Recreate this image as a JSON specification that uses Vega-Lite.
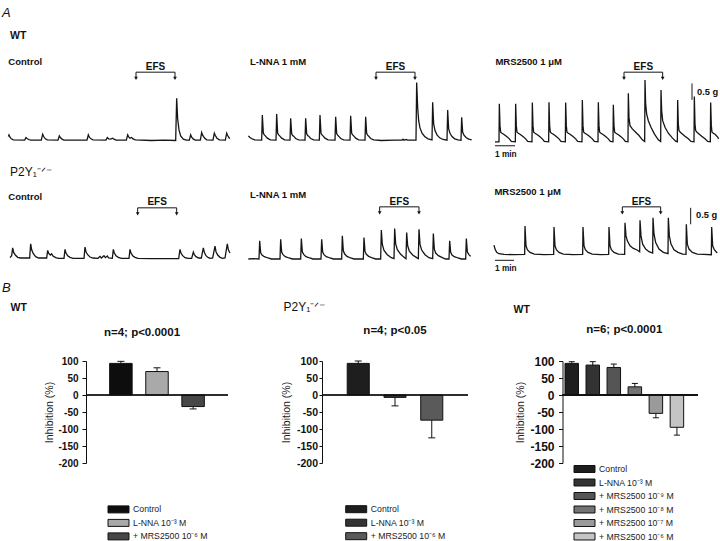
{
"$schema": "https://vega.github.io/schema/vega-lite/v6.json",
"padding": {"left": 2, "top": 7, "right": 0, "bottom": 0},
"background": "white",
"config": {
  "font": "Liberation Sans",
  "view": {"stroke": null},
  "title": {"anchor": "start", "frame": "bounds", "color": "#111", "fontWeight": "bold"},
  "text": {"color": "#111"}
},
"datasets": {
"a1": [{"t":1,"f":0.12},{"t":3,"f":0.17},{"t":6,"f":0.1},{"t":10,"f":0.05},{"t":16,"f":0.02},{"t":50,"f":0.01},{"t":54,"f":0.09},{"t":57,"f":0.06},{"t":62,"f":0.03},{"t":68,"f":0.01},{"t":100,"f":0.01},{"t":104,"f":0.19},{"t":107,"f":0.12},{"t":112,"f":0.05},{"t":118,"f":0.02},{"t":150,"f":0.01},{"t":154,"f":0.14},{"t":157,"f":0.09},{"t":162,"f":0.04},{"t":168,"f":0.01},{"t":237,"f":0.01},{"t":241,"f":0.17},{"t":244,"f":0.1},{"t":249,"f":0.05},{"t":255,"f":0.02},{"t":294,"f":0.01},{"t":298,"f":0.09},{"t":302,"f":0.05},{"t":308,"f":0.04},{"t":314,"f":0.07},{"t":318,"f":0.04},{"t":324,"f":0.01},{"t":355,"f":0.01},{"t":359,"f":0.17},{"t":362,"f":0.11},{"t":366,"f":0.07},{"t":371,"f":0.09},{"t":375,"f":0.05},{"t":382,"f":0.02},{"t":430,"f":0.0},{"t":470,"f":0.01},{"t":503,"f":0.0},{"t":506,"f":1.28},{"t":509,"f":0.65},{"t":513,"f":0.32},{"t":518,"f":0.14},{"t":526,"f":0.04},{"t":535,"f":0.01},{"t":544,"f":0.01},{"t":548,"f":0.17},{"t":551,"f":0.1},{"t":556,"f":0.04},{"t":562,"f":0.01},{"t":577,"f":0.01},{"t":581,"f":0.24},{"t":584,"f":0.16},{"t":589,"f":0.08},{"t":596,"f":0.02},{"t":615,"f":0.01},{"t":619,"f":0.22},{"t":622,"f":0.15},{"t":627,"f":0.07},{"t":634,"f":0.02},{"t":652,"f":0.01},{"t":656,"f":0.22},{"t":659,"f":0.15},{"t":664,"f":0.07},{"t":666,"f":0.06}],
"a2": [{"t":1,"f":0.14},{"t":5,"f":0.1},{"t":10,"f":0.06},{"t":20,"f":0.02},{"t":41,"f":0.01},{"t":43,"f":0.77},{"t":46,"f":0.22},{"t":49,"f":0.17},{"t":52,"f":0.14},{"t":58,"f":0.07},{"t":67,"f":0.02},{"t":84,"f":0.01},{"t":86,"f":0.8},{"t":89,"f":0.22},{"t":92,"f":0.17},{"t":95,"f":0.14},{"t":101,"f":0.07},{"t":110,"f":0.02},{"t":126,"f":0.01},{"t":128,"f":0.67},{"t":131,"f":0.2},{"t":134,"f":0.15},{"t":137,"f":0.13},{"t":143,"f":0.06},{"t":152,"f":0.02},{"t":171,"f":0.01},{"t":173,"f":0.67},{"t":176,"f":0.2},{"t":179,"f":0.15},{"t":182,"f":0.13},{"t":188,"f":0.06},{"t":197,"f":0.02},{"t":214,"f":0.01},{"t":216,"f":0.77},{"t":219,"f":0.22},{"t":222,"f":0.17},{"t":225,"f":0.14},{"t":231,"f":0.07},{"t":240,"f":0.02},{"t":261,"f":0.01},{"t":263,"f":0.72},{"t":266,"f":0.21},{"t":269,"f":0.16},{"t":272,"f":0.13},{"t":278,"f":0.06},{"t":287,"f":0.02},{"t":306,"f":0.01},{"t":308,"f":0.75},{"t":311,"f":0.22},{"t":314,"f":0.17},{"t":317,"f":0.14},{"t":323,"f":0.07},{"t":332,"f":0.02},{"t":351,"f":0.01},{"t":353,"f":0.72},{"t":356,"f":0.21},{"t":359,"f":0.16},{"t":362,"f":0.13},{"t":368,"f":0.06},{"t":377,"f":0.02},{"t":400,"f":0.0},{"t":440,"f":0.01},{"t":462,"f":0.01},{"t":465,"f":0.04},{"t":468,"f":0.01},{"t":475,"f":0.03},{"t":478,"f":0.01},{"t":504,"f":0.01},{"t":506,"f":1.76},{"t":509,"f":1.0},{"t":512,"f":0.6},{"t":516,"f":0.38},{"t":522,"f":0.22},{"t":530,"f":0.12},{"t":540,"f":0.05},{"t":552,"f":0.02},{"t":554,"f":1.16},{"t":557,"f":0.5},{"t":561,"f":0.3},{"t":567,"f":0.17},{"t":575,"f":0.08},{"t":585,"f":0.03},{"t":597,"f":0.01},{"t":599,"f":0.92},{"t":602,"f":0.35},{"t":606,"f":0.22},{"t":612,"f":0.12},{"t":620,"f":0.05},{"t":630,"f":0.02},{"t":639,"f":0.01},{"t":641,"f":0.7},{"t":644,"f":0.25},{"t":648,"f":0.16},{"t":654,"f":0.09},{"t":662,"f":0.04},{"t":671,"f":0.02}],
"a3": [{"t":0,"f":-0.04},{"t":12,"f":-0.04},{"t":13,"f":1.11},{"t":15,"f":0.45},{"t":17,"f":0.25},{"t":21,"f":0.22},{"t":27,"f":0.18},{"t":35,"f":0.12},{"t":43,"f":0.05},{"t":49,"f":-0.03},{"t":61,"f":-0.04},{"t":62,"f":1.11},{"t":64,"f":0.45},{"t":66,"f":0.25},{"t":70,"f":0.22},{"t":76,"f":0.18},{"t":84,"f":0.12},{"t":92,"f":0.05},{"t":98,"f":-0.03},{"t":111,"f":-0.04},{"t":112,"f":1.15},{"t":114,"f":0.45},{"t":116,"f":0.25},{"t":120,"f":0.22},{"t":126,"f":0.18},{"t":134,"f":0.12},{"t":142,"f":0.05},{"t":148,"f":-0.03},{"t":161,"f":-0.04},{"t":162,"f":1.16},{"t":164,"f":0.45},{"t":166,"f":0.25},{"t":170,"f":0.22},{"t":176,"f":0.18},{"t":184,"f":0.12},{"t":192,"f":0.05},{"t":198,"f":-0.03},{"t":211,"f":-0.04},{"t":212,"f":1.15},{"t":214,"f":0.45},{"t":216,"f":0.25},{"t":220,"f":0.22},{"t":226,"f":0.18},{"t":234,"f":0.12},{"t":242,"f":0.05},{"t":248,"f":-0.03},{"t":261,"f":-0.04},{"t":262,"f":1.23},{"t":264,"f":0.45},{"t":266,"f":0.25},{"t":270,"f":0.22},{"t":276,"f":0.18},{"t":284,"f":0.12},{"t":292,"f":0.05},{"t":298,"f":-0.03},{"t":309,"f":-0.04},{"t":310,"f":1.16},{"t":312,"f":0.45},{"t":314,"f":0.25},{"t":318,"f":0.22},{"t":324,"f":0.18},{"t":332,"f":0.12},{"t":340,"f":0.05},{"t":346,"f":-0.03},{"t":354,"f":-0.04},{"t":355,"f":1.08},{"t":357,"f":0.45},{"t":359,"f":0.25},{"t":363,"f":0.22},{"t":369,"f":0.18},{"t":377,"f":0.12},{"t":385,"f":0.05},{"t":391,"f":-0.03},{"t":399,"f":-0.04},{"t":400,"f":1.43},{"t":402,"f":0.7},{"t":405,"f":0.45},{"t":412,"f":0.35},{"t":422,"f":0.25},{"t":432,"f":0.15},{"t":442,"f":0.02},{"t":449,"f":-0.03},{"t":450,"f":1.83},{"t":452,"f":1.1},{"t":455,"f":0.8},{"t":460,"f":0.6},{"t":468,"f":0.4},{"t":478,"f":0.2},{"t":490,"f":0.02},{"t":497,"f":-0.03},{"t":498,"f":1.53},{"t":500,"f":0.9},{"t":503,"f":0.6},{"t":510,"f":0.4},{"t":520,"f":0.22},{"t":532,"f":0.08},{"t":542,"f":-0.02},{"t":547,"f":-0.04},{"t":548,"f":1.23},{"t":550,"f":0.5},{"t":552,"f":0.3},{"t":556,"f":0.25},{"t":562,"f":0.2},{"t":570,"f":0.13},{"t":580,"f":0.05},{"t":588,"f":-0.03},{"t":597,"f":-0.04},{"t":598,"f":1.33},{"t":600,"f":0.5},{"t":602,"f":0.3},{"t":606,"f":0.25},{"t":612,"f":0.2},{"t":620,"f":0.13},{"t":630,"f":0.05},{"t":638,"f":-0.03},{"t":646,"f":-0.04},{"t":647,"f":1.15},{"t":649,"f":0.45},{"t":651,"f":0.25},{"t":655,"f":0.22},{"t":661,"f":0.18},{"t":668,"f":0.1},{"t":671,"f":0.05}],
"b1": [{"t":6,"f":0.04},{"t":11,"f":0.1},{"t":14,"f":0.34},{"t":17,"f":0.2},{"t":22,"f":0.12},{"t":29,"f":0.05},{"t":38,"f":0.03},{"t":65,"f":0.03},{"t":68,"f":0.46},{"t":71,"f":0.28},{"t":76,"f":0.16},{"t":83,"f":0.07},{"t":92,"f":0.03},{"t":116,"f":0.03},{"t":119,"f":0.26},{"t":122,"f":0.17},{"t":127,"f":0.12},{"t":131,"f":0.16},{"t":135,"f":0.09},{"t":143,"f":0.04},{"t":152,"f":0.02},{"t":168,"f":0.02},{"t":171,"f":0.29},{"t":174,"f":0.18},{"t":179,"f":0.1},{"t":186,"f":0.05},{"t":195,"f":0.02},{"t":228,"f":0.02},{"t":231,"f":0.36},{"t":234,"f":0.22},{"t":239,"f":0.13},{"t":246,"f":0.06},{"t":255,"f":0.03},{"t":270,"f":0.02},{"t":276,"f":0.08},{"t":280,"f":0.03},{"t":288,"f":0.1},{"t":292,"f":0.04},{"t":298,"f":0.09},{"t":302,"f":0.03},{"t":313,"f":0.02},{"t":316,"f":0.29},{"t":319,"f":0.18},{"t":324,"f":0.1},{"t":331,"f":0.05},{"t":340,"f":0.02},{"t":363,"f":0.02},{"t":366,"f":0.29},{"t":369,"f":0.18},{"t":374,"f":0.1},{"t":381,"f":0.05},{"t":390,"f":0.02},{"t":430,"f":0.01},{"t":470,"f":0.01},{"t":512,"f":0.01},{"t":516,"f":0.29},{"t":519,"f":0.18},{"t":524,"f":0.1},{"t":531,"f":0.04},{"t":540,"f":0.02},{"t":551,"f":0.02},{"t":556,"f":0.21},{"t":559,"f":0.13},{"t":564,"f":0.07},{"t":572,"f":0.03},{"t":580,"f":0.03},{"t":586,"f":0.34},{"t":589,"f":0.2},{"t":594,"f":0.1},{"t":601,"f":0.04},{"t":608,"f":0.02},{"t":614,"f":0.03},{"t":621,"f":0.39},{"t":624,"f":0.22},{"t":629,"f":0.12},{"t":636,"f":0.05},{"t":644,"f":0.02},{"t":651,"f":0.03},{"t":658,"f":0.46},{"t":661,"f":0.28},{"t":666,"f":0.18}],
"b2": [{"t":4,"f":0.0},{"t":20,"f":0.01},{"t":36,"f":0.0},{"t":38,"f":0.55},{"t":41,"f":0.19},{"t":45,"f":0.12},{"t":52,"f":0.07},{"t":63,"f":0.03},{"t":73,"f":0.0},{"t":99,"f":0.0},{"t":101,"f":0.6},{"t":104,"f":0.21},{"t":108,"f":0.13},{"t":115,"f":0.07},{"t":126,"f":0.03},{"t":136,"f":0.0},{"t":161,"f":0.0},{"t":163,"f":0.62},{"t":166,"f":0.22},{"t":170,"f":0.14},{"t":177,"f":0.07},{"t":188,"f":0.03},{"t":198,"f":0.0},{"t":222,"f":0.0},{"t":224,"f":0.6},{"t":227,"f":0.21},{"t":231,"f":0.13},{"t":238,"f":0.07},{"t":249,"f":0.03},{"t":259,"f":0.0},{"t":284,"f":0.0},{"t":286,"f":0.7},{"t":289,"f":0.25},{"t":293,"f":0.15},{"t":300,"f":0.08},{"t":311,"f":0.03},{"t":321,"f":0.0},{"t":349,"f":0.0},{"t":351,"f":0.65},{"t":354,"f":0.23},{"t":358,"f":0.14},{"t":365,"f":0.08},{"t":376,"f":0.03},{"t":386,"f":0.0},{"t":401,"f":0.0},{"t":403,"f":0.88},{"t":406,"f":0.44},{"t":411,"f":0.26},{"t":421,"f":0.13},{"t":433,"f":0.04},{"t":441,"f":0.01},{"t":443,"f":0.92},{"t":446,"f":0.46},{"t":451,"f":0.28},{"t":461,"f":0.14},{"t":473,"f":0.04},{"t":477,"f":0.01},{"t":479,"f":0.8},{"t":482,"f":0.4},{"t":487,"f":0.24},{"t":497,"f":0.12},{"t":509,"f":0.04},{"t":514,"f":0.01},{"t":516,"f":0.9},{"t":519,"f":0.45},{"t":524,"f":0.27},{"t":534,"f":0.13},{"t":546,"f":0.04},{"t":557,"f":0.01},{"t":559,"f":0.77},{"t":562,"f":0.3},{"t":566,"f":0.18},{"t":574,"f":0.1},{"t":586,"f":0.04},{"t":596,"f":0.0},{"t":606,"f":0.0},{"t":608,"f":0.55},{"t":611,"f":0.2},{"t":615,"f":0.12},{"t":622,"f":0.07},{"t":633,"f":0.03},{"t":643,"f":0.0},{"t":656,"f":0.0},{"t":658,"f":0.62},{"t":661,"f":0.22},{"t":665,"f":0.14},{"t":671,"f":0.08}],
"b3": [{"t":0,"f":0.42},{"t":3,"f":0.3},{"t":8,"f":0.2},{"t":15,"f":0.16},{"t":30,"f":0.14},{"t":60,"f":0.13},{"t":92,"f":0.14},{"t":93,"f":1.0},{"t":96,"f":0.4},{"t":100,"f":0.28},{"t":108,"f":0.2},{"t":121,"f":0.15},{"t":150,"f":0.13},{"t":179,"f":0.14},{"t":180,"f":0.97},{"t":183,"f":0.4},{"t":187,"f":0.28},{"t":195,"f":0.2},{"t":208,"f":0.15},{"t":237,"f":0.13},{"t":266,"f":0.14},{"t":267,"f":0.97},{"t":270,"f":0.4},{"t":274,"f":0.28},{"t":282,"f":0.2},{"t":295,"f":0.15},{"t":320,"f":0.13},{"t":344,"f":0.14},{"t":345,"f":0.97},{"t":348,"f":0.4},{"t":352,"f":0.28},{"t":360,"f":0.2},{"t":373,"f":0.15},{"t":392,"f":0.14},{"t":393,"f":1.1},{"t":396,"f":0.7},{"t":400,"f":0.55},{"t":408,"f":0.4},{"t":418,"f":0.32},{"t":428,"f":0.28},{"t":437,"f":0.22},{"t":438,"f":1.17},{"t":441,"f":0.7},{"t":446,"f":0.45},{"t":455,"f":0.3},{"t":465,"f":0.22},{"t":476,"f":0.18},{"t":477,"f":1.25},{"t":480,"f":0.75},{"t":485,"f":0.5},{"t":495,"f":0.3},{"t":508,"f":0.2},{"t":522,"f":0.16},{"t":523,"f":1.25},{"t":526,"f":0.7},{"t":531,"f":0.45},{"t":540,"f":0.28},{"t":552,"f":0.2},{"t":566,"f":0.15},{"t":576,"f":0.14},{"t":577,"f":1.05},{"t":580,"f":0.45},{"t":585,"f":0.3},{"t":595,"f":0.2},{"t":610,"f":0.15},{"t":630,"f":0.14},{"t":652,"f":0.13},{"t":653,"f":0.97},{"t":656,"f":0.4},{"t":661,"f":0.28},{"t":668,"f":0.2},{"t":670,"f":0.19}],
"ann": [
{"p":"a1","k":"r","t":384,"f":2.07,"t2":501,"f2":2.07},{"p":"a1","k":"r","t":384,"f":2.07,"t2":384,"f2":1.88},{"p":"a1","k":"r","t":501,"f":2.07,"t2":501,"f2":1.88},{"p":"a1","k":"v","t":384,"f":1.88},{"p":"a1","k":"v","t":501,"f":1.88},{"p":"a1","k":"c","t":442.5,"f":2.23,"s":"EFS"},
{"p":"a2","k":"r","t":384,"f":2.07,"t2":501,"f2":2.07},{"p":"a2","k":"r","t":384,"f":2.07,"t2":384,"f2":1.88},{"p":"a2","k":"r","t":501,"f":2.07,"t2":501,"f2":1.88},{"p":"a2","k":"v","t":384,"f":1.88},{"p":"a2","k":"v","t":501,"f":1.88},{"p":"a2","k":"c","t":442.5,"f":2.23,"s":"EFS"},
{"p":"a3","k":"r","t":387,"f":2.07,"t2":503,"f2":2.07},{"p":"a3","k":"r","t":387,"f":2.07,"t2":387,"f2":1.88},{"p":"a3","k":"r","t":503,"f":2.07,"t2":503,"f2":1.88},{"p":"a3","k":"v","t":387,"f":1.88},{"p":"a3","k":"v","t":503,"f":1.88},{"p":"a3","k":"c","t":445,"f":2.23,"s":"EFS"},
{"p":"a3","k":"r","t":591,"f":1.23,"t2":591,"f2":1.73},{"p":"a3","k":"x","t":606,"f":1.48,"s":"0.5 g"},{"p":"a3","k":"r","t":0,"f":-0.16,"t2":60,"f2":-0.16},{"p":"a3","k":"m","t":0,"f":-0.44,"s":"1 min"},
{"p":"b1","k":"r","t":389,"f":1.55,"t2":506,"f2":1.55},{"p":"b1","k":"r","t":389,"f":1.55,"t2":389,"f2":1.37},{"p":"b1","k":"r","t":506,"f":1.55,"t2":506,"f2":1.37},{"p":"b1","k":"v","t":389,"f":1.37},{"p":"b1","k":"v","t":506,"f":1.37},{"p":"b1","k":"c","t":447.5,"f":1.74,"s":"EFS"},
{"p":"b2","k":"r","t":398,"f":1.58,"t2":516,"f2":1.58},{"p":"b2","k":"r","t":398,"f":1.58,"t2":398,"f2":1.4},{"p":"b2","k":"r","t":516,"f":1.58,"t2":516,"f2":1.4},{"p":"b2","k":"v","t":398,"f":1.4},{"p":"b2","k":"v","t":516,"f":1.4},{"p":"b2","k":"c","t":457,"f":1.74,"s":"EFS"},
{"p":"b3","k":"r","t":385,"f":1.58,"t2":500,"f2":1.58},{"p":"b3","k":"r","t":385,"f":1.58,"t2":385,"f2":1.4},{"p":"b3","k":"r","t":500,"f":1.58,"t2":500,"f2":1.4},{"p":"b3","k":"v","t":385,"f":1.4},{"p":"b3","k":"v","t":500,"f":1.4},{"p":"b3","k":"c","t":442.5,"f":1.74,"s":"EFS"},
{"p":"b3","k":"r","t":590,"f":1.05,"t2":590,"f2":1.55},{"p":"b3","k":"x","t":606,"f":1.32,"s":"0.5 g"},{"p":"b3","k":"r","t":3,"f":-0.04,"t2":60,"f2":-0.04},{"p":"b3","k":"m","t":3,"f":-0.31,"s":"1 min"}
],
"bars": [
{"g":"w","c":"Control","v":93,"e":99},{"g":"w","c":"L-NNA 10\u207b\u00b3 M","v":69,"e":80},{"g":"w","c":"+ MRS2500 10\u207b\u2076 M","v":-34,"e":-41},
{"g":"k","c":"Control","v":93,"e":100},{"g":"k","c":"L-NNA 10\u207b\u00b3 M","v":-7,"e":-32},{"g":"k","c":"+ MRS2500 10\u207b\u2076 M","v":-74,"e":-126},
{"g":"w2","c":"Control","v":93,"e":98},{"g":"w2","c":"L-NNA 10\u207b\u00b3 M","v":88,"e":98},{"g":"w2","c":"+ MRS2500 10\u207b\u2079 M","v":81,"e":91},{"g":"w2","c":"+ MRS2500 10\u207b\u2078 M","v":24,"e":34},{"g":"w2","c":"+ MRS2500 10\u207b\u2077 M","v":-54,"e":-67},{"g":"w2","c":"+ MRS2500 10\u207b\u2076 M","v":-95,"e":-118}
]
},
"spacing": 2,
"resolve": {"scale": {"x": "independent", "y": "independent", "color": "independent"}, "legend": {"color": "independent"}},
"vconcat": [
{
 "title": {"text": "A", "fontSize": 13, "fontStyle": "italic", "fontWeight": "normal", "offset": 10.6},
 "resolve": {"scale": {"x": "independent", "y": "independent"}},
 "vconcat": [{
  "title": {"text": "WT", "fontSize": 10.5, "dx": 8, "offset": 8.6},
  "spacing": 12,
  "resolve": {"scale": {"x": "independent", "y": "independent"}},
  "hconcat": [
   {"width": 231, "height": 114,
    "title": {"text": "Control", "fontSize": 9.5, "frame": "group", "dx": 6.3, "offset": -16.3},
    "encoding": {"x": {"field": "t", "type": "quantitative", "scale": {"domain": [-18, 675], "nice": false}, "axis": null},
                 "y": {"field": "f", "type": "quantitative", "scale": {"domain": [-0.7125, 2.742], "nice": false}, "axis": null}},
    "layer": [
     {"data": {"name": "a1"}, "mark": {"type": "line", "color": "#151515", "strokeWidth": 1.3}},
     {"data": {"name": "ann"}, "transform": [{"filter": "datum.p === 'a1' && datum.k === 'r'"}], "mark": {"type": "rule", "color": "#151515", "strokeWidth": 1}, "encoding": {"x2": {"field": "t2"}, "y2": {"field": "f2"}}},
     {"data": {"name": "ann"}, "transform": [{"filter": "datum.p === 'a1' && datum.k === 'v'"}], "mark": {"type": "point", "shape": "triangle-down", "filled": true, "color": "#151515", "size": 14, "opacity": 1}},
     {"data": {"name": "ann"}, "transform": [{"filter": "datum.p === 'a1' && datum.k === 'c'"}], "mark": {"type": "text", "fontSize": 10, "fontWeight": "bold", "align": "center", "baseline": "middle"}, "encoding": {"text": {"field": "s"}}}
    ]},
   {"width": 232, "height": 114,
    "title": {"text": "L-NNA 1 mM", "fontSize": 9.5, "frame": "group", "dx": 2, "offset": -16.3},
    "encoding": {"x": {"field": "t", "type": "quantitative", "scale": {"domain": [0, 696], "nice": false}, "axis": null},
                 "y": {"field": "f", "type": "quantitative", "scale": {"domain": [-0.7125, 2.742], "nice": false}, "axis": null}},
    "layer": [
     {"data": {"name": "a2"}, "mark": {"type": "line", "color": "#151515", "strokeWidth": 1.3}},
     {"data": {"name": "ann"}, "transform": [{"filter": "datum.p === 'a2' && datum.k === 'r'"}], "mark": {"type": "rule", "color": "#151515", "strokeWidth": 1}, "encoding": {"x2": {"field": "t2"}, "y2": {"field": "f2"}}},
     {"data": {"name": "ann"}, "transform": [{"filter": "datum.p === 'a2' && datum.k === 'v'"}], "mark": {"type": "point", "shape": "triangle-down", "filled": true, "color": "#151515", "size": 14, "opacity": 1}},
     {"data": {"name": "ann"}, "transform": [{"filter": "datum.p === 'a2' && datum.k === 'c'"}], "mark": {"type": "text", "fontSize": 10, "fontWeight": "bold", "align": "center", "baseline": "middle"}, "encoding": {"text": {"field": "s"}}}
    ]},
   {"width": 225, "height": 114,
    "title": {"text": "MRS2500 1 \u03bcM", "fontSize": 9.5, "frame": "group", "dx": 0.4, "offset": -16.3},
    "encoding": {"x": {"field": "t", "type": "quantitative", "scale": {"domain": [0, 675], "nice": false}, "axis": null},
                 "y": {"field": "f", "type": "quantitative", "scale": {"domain": [-0.7125, 2.742], "nice": false}, "axis": null}},
    "layer": [
     {"data": {"name": "a3"}, "mark": {"type": "line", "color": "#151515", "strokeWidth": 1.3}},
     {"data": {"name": "ann"}, "transform": [{"filter": "datum.p === 'a3' && datum.k === 'r'"}], "mark": {"type": "rule", "color": "#151515", "strokeWidth": 1}, "encoding": {"x2": {"field": "t2"}, "y2": {"field": "f2"}}},
     {"data": {"name": "ann"}, "transform": [{"filter": "datum.p === 'a3' && datum.k === 'v'"}], "mark": {"type": "point", "shape": "triangle-down", "filled": true, "color": "#151515", "size": 14, "opacity": 1}},
     {"data": {"name": "ann"}, "transform": [{"filter": "datum.p === 'a3' && datum.k === 'c'"}], "mark": {"type": "text", "fontSize": 10, "fontWeight": "bold", "align": "center", "baseline": "middle"}, "encoding": {"text": {"field": "s"}}},
     {"data": {"name": "ann"}, "transform": [{"filter": "datum.p === 'a3' && datum.k === 'x'"}], "mark": {"type": "text", "fontSize": 9.3, "fontWeight": "bold", "align": "left", "baseline": "middle"}, "encoding": {"text": {"field": "s"}}},
     {"data": {"name": "ann"}, "transform": [{"filter": "datum.p === 'a3' && datum.k === 'm'"}], "mark": {"type": "text", "fontSize": 8.3, "fontWeight": "bold", "align": "left", "baseline": "middle"}, "encoding": {"text": {"field": "s"}}}
    ]}
  ]
 }]
},
{
 "title": {"text": "P2Y\u2081\u207b\u141f\u207b", "fontSize": 12, "fontWeight": "normal", "dx": 8, "offset": 6},
 "spacing": 12,
 "resolve": {"scale": {"x": "independent", "y": "independent"}},
 "hconcat": [
   {"width": 231, "height": 94,
    "title": {"text": "Control", "fontSize": 9.5, "frame": "group", "dx": 6.3, "offset": -16.5},
    "encoding": {"x": {"field": "t", "type": "quantitative", "scale": {"domain": [-18, 675], "nice": false}, "axis": null},
                 "y": {"field": "f", "type": "quantitative", "scale": {"domain": [-0.6065, 2.242], "nice": false}, "axis": null}},
    "layer": [
     {"data": {"name": "b1"}, "mark": {"type": "line", "color": "#151515", "strokeWidth": 1.3}},
     {"data": {"name": "ann"}, "transform": [{"filter": "datum.p === 'b1' && datum.k === 'r'"}], "mark": {"type": "rule", "color": "#151515", "strokeWidth": 1}, "encoding": {"x2": {"field": "t2"}, "y2": {"field": "f2"}}},
     {"data": {"name": "ann"}, "transform": [{"filter": "datum.p === 'b1' && datum.k === 'v'"}], "mark": {"type": "point", "shape": "triangle-down", "filled": true, "color": "#151515", "size": 14, "opacity": 1}},
     {"data": {"name": "ann"}, "transform": [{"filter": "datum.p === 'b1' && datum.k === 'c'"}], "mark": {"type": "text", "fontSize": 10, "fontWeight": "bold", "align": "center", "baseline": "middle"}, "encoding": {"text": {"field": "s"}}}
    ]},
   {"width": 232, "height": 94,
    "title": {"text": "L-NNA 1 mM", "fontSize": 9.5, "frame": "group", "dx": 3, "offset": -14.8},
    "encoding": {"x": {"field": "t", "type": "quantitative", "scale": {"domain": [0, 696], "nice": false}, "axis": null},
                 "y": {"field": "f", "type": "quantitative", "scale": {"domain": [-0.6065, 2.242], "nice": false}, "axis": null}},
    "layer": [
     {"data": {"name": "b2"}, "mark": {"type": "line", "color": "#151515", "strokeWidth": 1.3}},
     {"data": {"name": "ann"}, "transform": [{"filter": "datum.p === 'b2' && datum.k === 'r'"}], "mark": {"type": "rule", "color": "#151515", "strokeWidth": 1}, "encoding": {"x2": {"field": "t2"}, "y2": {"field": "f2"}}},
     {"data": {"name": "ann"}, "transform": [{"filter": "datum.p === 'b2' && datum.k === 'v'"}], "mark": {"type": "point", "shape": "triangle-down", "filled": true, "color": "#151515", "size": 14, "opacity": 1}},
     {"data": {"name": "ann"}, "transform": [{"filter": "datum.p === 'b2' && datum.k === 'c'"}], "mark": {"type": "text", "fontSize": 10, "fontWeight": "bold", "align": "center", "baseline": "middle"}, "encoding": {"text": {"field": "s"}}}
    ]},
   {"width": 225, "height": 94,
    "title": {"text": "MRS2500 1 \u03bcM", "fontSize": 9.5, "frame": "group", "dx": 0.4, "offset": -11.5},
    "encoding": {"x": {"field": "t", "type": "quantitative", "scale": {"domain": [0, 675], "nice": false}, "axis": null},
                 "y": {"field": "f", "type": "quantitative", "scale": {"domain": [-0.6065, 2.242], "nice": false}, "axis": null}},
    "layer": [
     {"data": {"name": "b3"}, "mark": {"type": "line", "color": "#151515", "strokeWidth": 1.3}},
     {"data": {"name": "ann"}, "transform": [{"filter": "datum.p === 'b3' && datum.k === 'r'"}], "mark": {"type": "rule", "color": "#151515", "strokeWidth": 1}, "encoding": {"x2": {"field": "t2"}, "y2": {"field": "f2"}}},
     {"data": {"name": "ann"}, "transform": [{"filter": "datum.p === 'b3' && datum.k === 'v'"}], "mark": {"type": "point", "shape": "triangle-down", "filled": true, "color": "#151515", "size": 14, "opacity": 1}},
     {"data": {"name": "ann"}, "transform": [{"filter": "datum.p === 'b3' && datum.k === 'c'"}], "mark": {"type": "text", "fontSize": 10, "fontWeight": "bold", "align": "center", "baseline": "middle"}, "encoding": {"text": {"field": "s"}}},
     {"data": {"name": "ann"}, "transform": [{"filter": "datum.p === 'b3' && datum.k === 'x'"}], "mark": {"type": "text", "fontSize": 9.3, "fontWeight": "bold", "align": "left", "baseline": "middle"}, "encoding": {"text": {"field": "s"}}},
     {"data": {"name": "ann"}, "transform": [{"filter": "datum.p === 'b3' && datum.k === 'm'"}], "mark": {"type": "text", "fontSize": 8.3, "fontWeight": "bold", "align": "left", "baseline": "middle"}, "encoding": {"text": {"field": "s"}}}
    ]}
 ]
},
{
 "title": {"text": "B", "fontSize": 13, "fontStyle": "italic", "fontWeight": "normal", "dx": 0, "offset": 6.5},
 "spacing": 0,
 "resolve": {"scale": {"x": "independent", "y": "independent", "color": "independent"}, "legend": {"color": "independent"}},
 "hconcat": [
  {"width": 8, "height": 10, "data": {"values": [{"z": 1}]}, "mark": {"type": "point", "opacity": 0, "size": 1}},
  {"spacing": 52,
   "resolve": {"scale": {"x": "independent", "y": "independent", "color": "independent"}, "legend": {"color": "independent"}},
   "hconcat": [
  {"title": {"text": "WT", "fontSize": 10.5, "dx": -34.5, "offset": 12.9},
   "vconcat": [{
    "width": 142, "height": 102,
    "title": {"text": "n=4; p<0.0001", "fontSize": 11.5, "anchor": "middle", "frame": "group", "dx": -15, "offset": 17.9},
    "data": {"name": "bars"},
    "transform": [{"filter": "datum.g === 'w'"}],
    "layer": [
     {"mark": {"type": "bar", "stroke": "#111", "strokeWidth": 1},
      "encoding": {
       "x": {"field": "c", "type": "nominal", "sort": null, "axis": null, "scale": {"paddingInner": 0.377, "paddingOuter": 0.655}},
       "y": {"field": "v", "type": "quantitative", "scale": {"domain": [-200, 100], "nice": false},
             "axis": {"values": [-200,-150,-100,-50,0,50,100], "title": "Inhibition (%)", "titleFontSize": 10.5, "titleFontWeight": "normal", "titleColor": "#222", "titlePadding": 3, "labelFontSize": 10, "labelFontWeight": "bold", "labelColor": "#111", "labelPadding": 4, "tickSize": 4, "tickColor": "#111", "domainColor": "#111", "grid": false, "labelExpr": "datum.value + ''", "labelFlush": false, "labelOverlap": false}},
       "color": {"field": "c", "type": "nominal", "scale": {"domain": ["Control", "L-NNA 10\u207b\u00b3 M", "+ MRS2500 10\u207b\u2076 M"], "range": ["#0d0d0d", "#a9a9a9", "#474747"]},
             "legend": {"title": null, "orient": "none", "legendX": 26.5, "legendY": 142.4, "direction": "vertical", "symbolType": "M-2,-0.667L2,-0.667L2,0.667L-2,0.667Z", "symbolSize": 110, "symbolStrokeColor": "#111", "symbolStrokeWidth": 1, "symbolOpacity": 1, "labelFontSize": 8.7, "labelColor": "#222", "labelOffset": 8.6, "rowPadding": 1.5, "labelLimit": 300}}
      }},
     {"mark": {"type": "rule", "color": "#111", "strokeWidth": 1},
      "encoding": {"x": {"field": "c", "type": "nominal", "sort": null, "axis": null},
       "y": {"field": "v", "type": "quantitative", "scale": {"domain": [-200, 100], "nice": false},
             "axis": {"values": [-200,-150,-100,-50,0,50,100], "title": "Inhibition (%)", "titleFontSize": 10.5, "titleFontWeight": "normal", "titleColor": "#222", "titlePadding": 3, "labelFontSize": 10, "labelFontWeight": "bold", "labelColor": "#111", "labelPadding": 4, "tickSize": 4, "tickColor": "#111", "domainColor": "#111", "grid": false, "labelExpr": "datum.value + ''", "labelFlush": false, "labelOverlap": false}},
       "y2": {"field": "e"}}},
     {"mark": {"type": "tick", "color": "#111", "thickness": 1, "size": 7, "opacity": 1},
      "encoding": {"x": {"field": "c", "type": "nominal", "sort": null, "axis": null},
       "y": {"field": "e", "type": "quantitative", "scale": {"domain": [-200, 100], "nice": false},
             "axis": {"values": [-200,-150,-100,-50,0,50,100], "title": "Inhibition (%)", "titleFontSize": 10.5, "titleFontWeight": "normal", "titleColor": "#222", "titlePadding": 3, "labelFontSize": 10, "labelFontWeight": "bold", "labelColor": "#111", "labelPadding": 4, "tickSize": 4, "tickColor": "#111", "domainColor": "#111", "grid": false, "labelExpr": "datum.value + ''", "labelFlush": false, "labelOverlap": false}}}},
     {"mark": {"type": "rule", "color": "#111", "strokeWidth": 1},
      "encoding": {"y": {"datum": 0, "type": "quantitative", "scale": {"domain": [-200, 100], "nice": false},
             "axis": {"values": [-200,-150,-100,-50,0,50,100], "title": "Inhibition (%)", "titleFontSize": 10.5, "titleFontWeight": "normal", "titleColor": "#222", "titlePadding": 3, "labelFontSize": 10, "labelFontWeight": "bold", "labelColor": "#111", "labelPadding": 4, "tickSize": 4, "tickColor": "#111", "domainColor": "#111", "grid": false, "labelExpr": "datum.value + ''", "labelFlush": false, "labelOverlap": false}}}}
    ]
   }]
  },
  {"spacing": 43.5,
   "resolve": {"scale": {"x": "independent", "y": "independent", "color": "independent"}, "legend": {"color": "independent"}},
   "hconcat": [
    {"title": {"text": "P2Y\u2081\u207b\u141f\u207b", "fontSize": 12, "fontWeight": "normal", "dx": 1.5, "offset": 11.4},
     "vconcat": [{
      "width": 146, "height": 102,
      "title": {"text": "n=4; p<0.05", "fontSize": 11.5, "anchor": "middle", "frame": "group", "dx": 0, "offset": 19.05},
      "data": {"name": "bars"},
      "transform": [{"filter": "datum.g === 'k'"}],
      "layer": [
       {"mark": {"type": "bar", "stroke": "#111", "strokeWidth": 1},
        "encoding": {
         "x": {"field": "c", "type": "nominal", "sort": null, "axis": null, "scale": {"paddingInner": 0.4, "paddingOuter": 0.686}},
         "y": {"field": "v", "type": "quantitative", "scale": {"domain": [-200, 100], "nice": false},
               "axis": {"values": [-200,-150,-100,-50,0,50,100], "title": "Inhibition (%)", "titleFontSize": 10.5, "titleFontWeight": "normal", "titleColor": "#222", "titlePadding": 4.5, "labelFontSize": 10.5, "labelFontWeight": "bold", "labelColor": "#111", "labelPadding": 1.5, "tickSize": 3, "tickColor": "#111", "domainColor": "#111", "grid": false, "labelExpr": "datum.value + ''", "labelFlush": false, "labelOverlap": false}},
         "color": {"field": "c", "type": "nominal", "scale": {"domain": ["Control", "L-NNA 10\u207b\u00b3 M", "+ MRS2500 10\u207b\u2076 M"], "range": ["#1e1e1e", "#333333", "#5a5a5a"]},
               "legend": {"title": null, "orient": "none", "legendX": 28.2, "legendY": 142.2, "direction": "vertical", "symbolType": "M-2,-0.667L2,-0.667L2,0.667L-2,0.667Z", "symbolSize": 110, "symbolStrokeColor": "#111", "symbolStrokeWidth": 1, "symbolOpacity": 1, "labelFontSize": 8.7, "labelColor": "#222", "labelOffset": 8.6, "rowPadding": 1.5, "labelLimit": 300}}
        }},
       {"mark": {"type": "rule", "color": "#111", "strokeWidth": 1},
        "encoding": {"x": {"field": "c", "type": "nominal", "sort": null, "axis": null},
         "y": {"field": "v", "type": "quantitative", "scale": {"domain": [-200, 100], "nice": false},
               "axis": {"values": [-200,-150,-100,-50,0,50,100], "title": "Inhibition (%)", "titleFontSize": 10.5, "titleFontWeight": "normal", "titleColor": "#222", "titlePadding": 4.5, "labelFontSize": 10.5, "labelFontWeight": "bold", "labelColor": "#111", "labelPadding": 1.5, "tickSize": 3, "tickColor": "#111", "domainColor": "#111", "grid": false, "labelExpr": "datum.value + ''", "labelFlush": false, "labelOverlap": false}},
         "y2": {"field": "e"}}},
       {"mark": {"type": "tick", "color": "#111", "thickness": 1, "size": 7, "opacity": 1},
        "encoding": {"x": {"field": "c", "type": "nominal", "sort": null, "axis": null},
         "y": {"field": "e", "type": "quantitative", "scale": {"domain": [-200, 100], "nice": false},
               "axis": {"values": [-200,-150,-100,-50,0,50,100], "title": "Inhibition (%)", "titleFontSize": 10.5, "titleFontWeight": "normal", "titleColor": "#222", "titlePadding": 4.5, "labelFontSize": 10.5, "labelFontWeight": "bold", "labelColor": "#111", "labelPadding": 1.5, "tickSize": 3, "tickColor": "#111", "domainColor": "#111", "grid": false, "labelExpr": "datum.value + ''", "labelFlush": false, "labelOverlap": false}}}},
       {"mark": {"type": "rule", "color": "#111", "strokeWidth": 1},
        "encoding": {"y": {"datum": 0, "type": "quantitative", "scale": {"domain": [-200, 100], "nice": false},
               "axis": {"values": [-200,-150,-100,-50,0,50,100], "title": "Inhibition (%)", "titleFontSize": 10.5, "titleFontWeight": "normal", "titleColor": "#222", "titlePadding": 4.5, "labelFontSize": 10.5, "labelFontWeight": "bold", "labelColor": "#111", "labelPadding": 1.5, "tickSize": 3, "tickColor": "#111", "domainColor": "#111", "grid": false, "labelExpr": "datum.value + ''", "labelFlush": false, "labelOverlap": false}}}}
      ]
     }]
    },
    {"title": {"text": "WT", "fontSize": 10.5, "dx": -2.5, "offset": 8.9},
     "vconcat": [{
      "width": 135.5, "height": 102,
      "title": {"text": "n=6; p<0.0001", "fontSize": 11.5, "anchor": "middle", "frame": "group", "dx": -6, "offset": 19.6},
      "data": {"name": "bars"},
      "transform": [{"filter": "datum.g === 'w2'"}],
      "layer": [
       {"mark": {"type": "bar", "stroke": "#111", "strokeWidth": 1},
        "encoding": {
         "x": {"field": "c", "type": "nominal", "sort": null, "axis": null, "scale": {"paddingInner": 0.358, "paddingOuter": 0.4, "align": 0.148}},
         "y": {"field": "v", "type": "quantitative", "scale": {"domain": [-200, 100], "nice": false},
               "axis": {"values": [-200,-150,-100,-50,0,50,100], "title": "Inhibition (%)", "titleFontSize": 10.5, "titleFontWeight": "normal", "titleColor": "#222", "titlePadding": 4, "labelFontSize": 12, "labelFontWeight": "bold", "labelColor": "#111", "labelPadding": 4.5, "tickSize": 4, "tickColor": "#111", "domainColor": "#111", "grid": false, "labelExpr": "datum.value + ''", "labelFlush": false, "labelOverlap": false}},
         "color": {"field": "c", "type": "nominal", "scale": {"domain": ["Control", "L-NNA 10\u207b\u00b3 M", "+ MRS2500 10\u207b\u2079 M", "+ MRS2500 10\u207b\u2078 M", "+ MRS2500 10\u207b\u2077 M", "+ MRS2500 10\u207b\u2076 M"], "range": ["#1e1e1e", "#333333", "#555555", "#737373", "#9a9a9a", "#c4c4c4"]},
               "legend": {"title": null, "orient": "none", "legendX": 16, "legendY": 102, "direction": "vertical", "symbolType": "M-2,-0.667L2,-0.667L2,0.667L-2,0.667Z", "symbolSize": 110, "symbolStrokeColor": "#111", "symbolStrokeWidth": 1, "symbolOpacity": 1, "labelFontSize": 8.7, "labelColor": "#222", "labelOffset": 8.6, "rowPadding": 1.5, "labelLimit": 300}}
        }},
       {"mark": {"type": "rule", "color": "#111", "strokeWidth": 1},
        "encoding": {"x": {"field": "c", "type": "nominal", "sort": null, "axis": null},
         "y": {"field": "v", "type": "quantitative", "scale": {"domain": [-200, 100], "nice": false},
               "axis": {"values": [-200,-150,-100,-50,0,50,100], "title": "Inhibition (%)", "titleFontSize": 10.5, "titleFontWeight": "normal", "titleColor": "#222", "titlePadding": 4, "labelFontSize": 12, "labelFontWeight": "bold", "labelColor": "#111", "labelPadding": 4.5, "tickSize": 4, "tickColor": "#111", "domainColor": "#111", "grid": false, "labelExpr": "datum.value + ''", "labelFlush": false, "labelOverlap": false}},
         "y2": {"field": "e"}}},
       {"mark": {"type": "tick", "color": "#111", "thickness": 1, "size": 6, "opacity": 1},
        "encoding": {"x": {"field": "c", "type": "nominal", "sort": null, "axis": null},
         "y": {"field": "e", "type": "quantitative", "scale": {"domain": [-200, 100], "nice": false},
               "axis": {"values": [-200,-150,-100,-50,0,50,100], "title": "Inhibition (%)", "titleFontSize": 10.5, "titleFontWeight": "normal", "titleColor": "#222", "titlePadding": 4, "labelFontSize": 12, "labelFontWeight": "bold", "labelColor": "#111", "labelPadding": 4.5, "tickSize": 4, "tickColor": "#111", "domainColor": "#111", "grid": false, "labelExpr": "datum.value + ''", "labelFlush": false, "labelOverlap": false}}}},
       {"mark": {"type": "rule", "color": "#111", "strokeWidth": 1},
        "encoding": {"y": {"datum": 0, "type": "quantitative", "scale": {"domain": [-200, 100], "nice": false},
               "axis": {"values": [-200,-150,-100,-50,0,50,100], "title": "Inhibition (%)", "titleFontSize": 10.5, "titleFontWeight": "normal", "titleColor": "#222", "titlePadding": 4, "labelFontSize": 12, "labelFontWeight": "bold", "labelColor": "#111", "labelPadding": 4.5, "tickSize": 4, "tickColor": "#111", "domainColor": "#111", "grid": false, "labelExpr": "datum.value + ''", "labelFlush": false, "labelOverlap": false}}}}
      ]
     }]
    }
   ]
  }
   ]
  }
 ]
}
]
}
